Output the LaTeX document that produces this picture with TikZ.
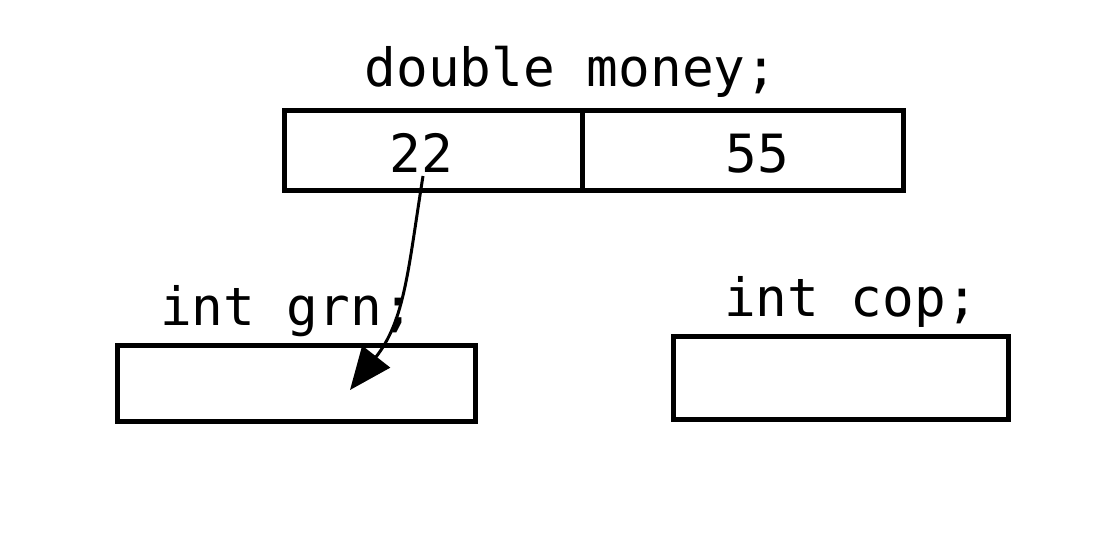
\documentclass[tikz,border=0pt]{standalone}
\usepackage{fontspec}
\setmonofont{DejaVu Sans Mono}
\usetikzlibrary{arrows.meta}
\begin{document}
\begin{tikzpicture}[x=0.02cm,y=-0.02cm,
  cell/.style={draw=black,line width=0.1cm},
  lbl/.style={font=\ttfamily\fontsize{30}{32}\selectfont,anchor=base,inner sep=0pt},
  ptr/.style={draw=black,line width=0.06cm,-{Triangle[length=0.85cm,width=0.7cm]}}]
\useasboundingbox (0,0) rectangle (1112,552);
\fill[white] (0,0) rectangle (1112,552);
% top array
\draw[cell] (284,110) rectangle (582,190);
\draw[cell] (582,110) rectangle (903,190);
\node[lbl] (money) at (571,86) {double money;};
\node[lbl] (v22) at (421,172) {22};
\node[lbl] (v55) at (757,172) {55};
% left variable
\draw[cell] (117,345) rectangle (475,421);
\node[lbl] (grn) at (287,325) {int grn;};
% right variable
\draw[cell] (673,336) rectangle (1008,419);
\node[lbl] (cop) at (851,316) {int cop;};
% pointer
\coordinate (ps) at (423,176);
\coordinate (pe) at (350,390);
\draw[ptr] (ps) .. controls (408,270) and (405,320) .. (pe);
\end{tikzpicture}
\end{document}
